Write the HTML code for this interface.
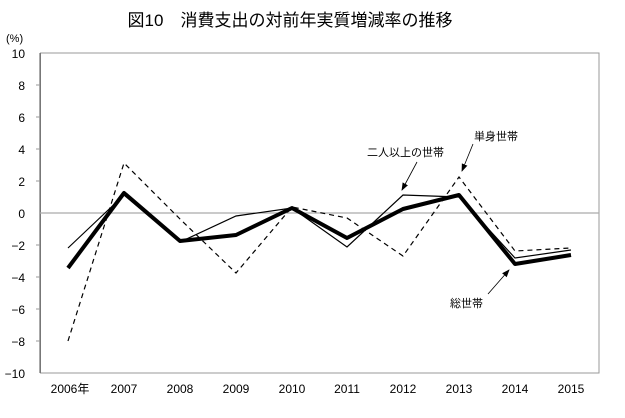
<!DOCTYPE html><html><head><meta charset="utf-8"><style>
body{margin:0;background:#fff}
svg text{font-family:"Liberation Sans","Noto Sans CJK JP",sans-serif;fill:#000}
</style></head><body>
<svg width="625" height="413" xmlns="http://www.w3.org/2000/svg">
<defs><marker id="a" markerWidth="8" markerHeight="8" refX="7" refY="4" orient="auto" markerUnits="userSpaceOnUse"><path d="M0,1 L8,4 L0,7 z" fill="#000"/></marker></defs>
<text x="290" y="26" font-size="17" text-anchor="middle">図10　消費支出の対前年実質増減率の推移</text>
<text x="6" y="42" font-size="11">(%)</text>
<rect x="40.5" y="53" width="558.5" height="320" fill="none" stroke="#999" stroke-width="1"/>
<line x1="40" y1="53" x2="40" y2="373" stroke="#555"/>
<line x1="40" y1="213" x2="599" y2="213" stroke="#aaa" stroke-width="1.2"/>
<g font-size="12" text-anchor="end">
<text x="25" y="58">10</text><text x="25" y="90">8</text><text x="25" y="122">6</text><text x="25" y="154">4</text><text x="25" y="186">2</text><text x="25" y="218">0</text><text x="25" y="250">−2</text><text x="25" y="282">−4</text><text x="25" y="314">−6</text><text x="25" y="346">−8</text><text x="25" y="378">−10</text>
</g>
<g stroke="#999"><line x1="36" y1="85" x2="40" y2="85"/><line x1="36" y1="117" x2="40" y2="117"/><line x1="36" y1="149" x2="40" y2="149"/><line x1="36" y1="181" x2="40" y2="181"/><line x1="36" y1="245" x2="40" y2="245"/><line x1="36" y1="277" x2="40" y2="277"/><line x1="36" y1="309" x2="40" y2="309"/><line x1="36" y1="341" x2="40" y2="341"/></g>
<g font-size="12" text-anchor="middle">
<text x="70" y="393">2006年</text><text x="124" y="393">2007</text><text x="180" y="393">2008</text><text x="236" y="393">2009</text><text x="292" y="393">2010</text><text x="347" y="393">2011</text><text x="403" y="393">2012</text><text x="459" y="393">2013</text><text x="515" y="393">2014</text><text x="571" y="393">2015</text>
</g>
<polyline fill="none" stroke="#000" stroke-width="1.2" stroke-dasharray="5,4" points="68,341 124,163 180,219 236,273 292,207 347,218 403,256 459,177 515,251 571,248"/>
<polyline fill="none" stroke="#000" stroke-width="1.2" points="68,248 124,195 180,242 236,216 292,208 347,247 403,195 459,197 515,258 571,250"/>
<polyline fill="none" stroke="#000" stroke-width="4" stroke-linejoin="round" points="68,268 124,193 180,241 236,235 292,208 347,238 403,209 459,195 515,264 571,255"/>
<g font-size="11">
<text x="367" y="156">二人以上の世帯</text>
<text x="474" y="140">単身世帯</text>
<text x="450" y="307">総世帯</text>
</g>
<g stroke="#000" stroke-width="0.8">
<line x1="417" y1="162" x2="402" y2="190" marker-end="url(#a)"/>
<line x1="473" y1="144" x2="462" y2="171" marker-end="url(#a)"/>
<line x1="488" y1="294" x2="509" y2="270" marker-end="url(#a)"/>
</g>
</svg>
</body></html>
